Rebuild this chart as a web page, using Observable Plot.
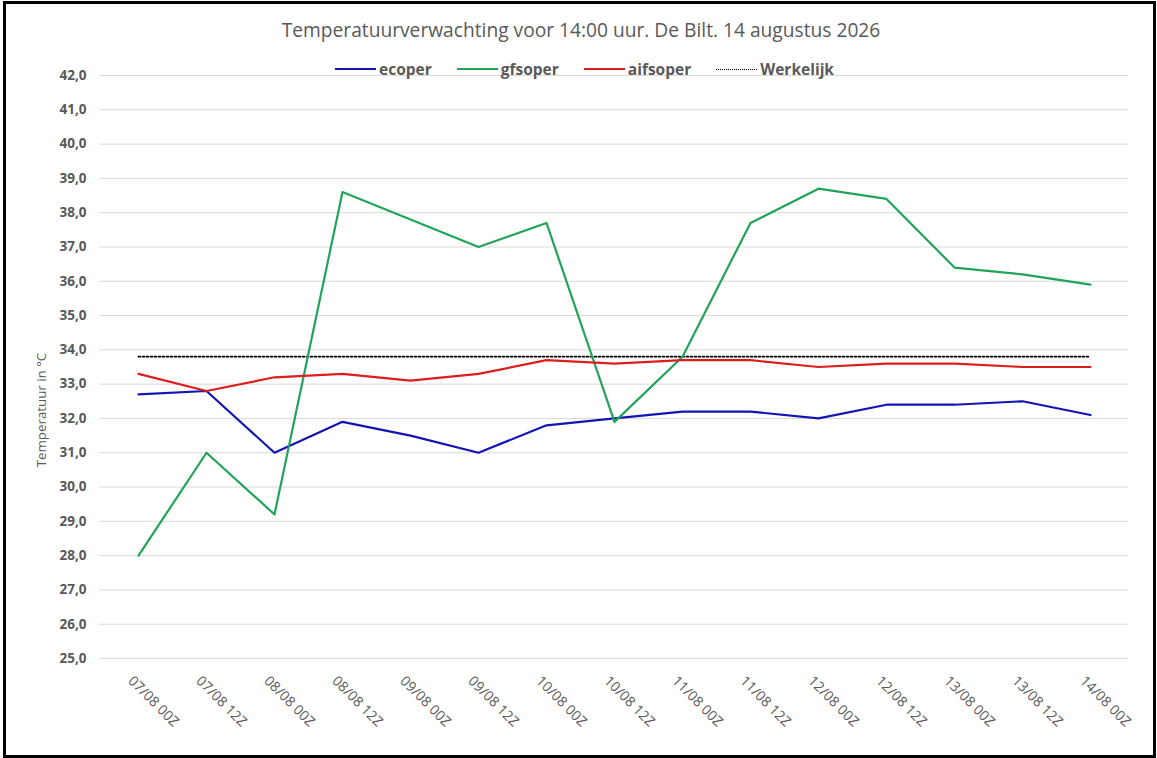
<!DOCTYPE html>
<html>
<head>
<meta charset="utf-8">
<script src="https://cdn.jsdelivr.net/npm/d3@7"></script>
<script src="https://cdn.jsdelivr.net/npm/@observablehq/plot@0.6"></script>
<style>
  html, body { margin: 0; padding: 0; background: #fff; }
  body { width: 1157px; height: 758px; position: relative; overflow: hidden; font-family: "Open Sans", sans-serif; }
  #frame { position: absolute; left: 3px; top: 1px; width: 1153px; height: 757px; border: 3px solid #000; box-sizing: border-box; pointer-events: none; z-index: 5; }
  #title { position: absolute; top: 16px; left: 0; width: 1162px; text-align: center; font-size: 19.2px; color: #595959; }
  #legend { position: absolute; top: 58px; left: 335px; display: flex; align-items: center; gap: 25px; font-size: 15.5px; font-weight: 700; color: #595959; z-index: 2; }
  .item { display: flex; align-items: center; gap: 3px; }
  .sw { width: 41px; height: 0; }
  #chart { position: absolute; top: 62px; left: 0; }
</style>
</head>
<body>
<div id="frame"></div>
<div id="title">Temperatuurverwachting voor 14:00 uur. De Bilt. 14 augustus 2026</div>
<div id="legend"></div>
<div id="chart"></div>
<script>
const categories = ["07/08 00Z","07/08 12Z","08/08 00Z","08/08 12Z","09/08 00Z","09/08 12Z","10/08 00Z","10/08 12Z","11/08 00Z","11/08 12Z","12/08 00Z","12/08 12Z","13/08 00Z","13/08 12Z","14/08 00Z"];
const ecoper   = [32.7, 32.8, 31.0, 31.9, 31.5, 31.0, 31.8, 32.0, 32.2, 32.2, 32.0, 32.4, 32.4, 32.5, 32.1];
const gfsoper  = [28.0, 31.0, 29.2, 38.6, 37.8, 37.0, 37.7, 31.9, 33.8, 37.7, 38.7, 38.4, 36.4, 36.2, 35.9];
const aifsoper = [33.3, 32.8, 33.2, 33.3, 33.1, 33.3, 33.7, 33.6, 33.7, 33.7, 33.5, 33.6, 33.6, 33.5, 33.5];
const werkelijk = [33.8, 33.8, 33.8, 33.8, 33.8, 33.8, 33.8, 33.8, 33.8, 33.8, 33.8, 33.8, 33.8, 33.8, 33.8];
const yTicks = [25,26,27,28,29,30,31,32,33,34,35,36,37,38,39,40,41,42];

const series = [
  {name: "ecoper", values: ecoper, color: "#1414b4", dash: null},
  {name: "gfsoper", values: gfsoper, color: "#22a35a", dash: null},
  {name: "aifsoper", values: aifsoper, color: "#dc1e1e", dash: null},
  {name: "Werkelijk", values: werkelijk, color: "#000", dash: "2 2"}
];

const legend = document.getElementById("legend");
for (const s of series) {
  const it = document.createElement("div");
  it.className = "item";
  const sw = document.createElement("div");
  sw.className = "sw";
  sw.style.borderTop = s.dash ? `1.6px dotted ${s.color}` : `2.5px solid ${s.color}`;
  const t = document.createElement("span");
  t.textContent = s.name;
  it.appendChild(sw); it.appendChild(t);
  legend.appendChild(it);
}

const fmt = d => d.toFixed(1).replace(".", ",");

const chart = Plot.plot({
  width: 1157,
  height: 696,
  marginTop: 13,
  marginBottom: 100,
  marginLeft: 99,
  marginRight: 29,
  style: {fontFamily: "'Open Sans', sans-serif", background: "transparent", color: "#595959", overflow: "visible"},
  x: {type: "point", domain: categories, padding: 0.5, label: null},
  y: {domain: [25, 42], label: null},
  marks: [
    Plot.gridY(yTicks, {stroke: "#d9d9d9", strokeOpacity: 1, strokeWidth: 1}),
    Plot.axisY(yTicks, {tickFormat: fmt, tickSize: 0, tickPadding: 13, fontSize: 13.5, fontWeight: 700, fill: "#595959", label: null}),
    Plot.axisX({tickRotate: 45, tickSize: 0, tickPadding: 0, dy: 20, dx: -8, fontSize: 14, fill: "#595959", label: null}),
    Plot.text(["Temperatuur in °C"], {frameAnchor: "left", textAnchor: "middle", dx: -58, dy: 43, rotate: -90, fontSize: 13.3, fill: "#595959"}),
    Plot.lineY(werkelijk, {x: categories, stroke: "#000", strokeWidth: 1.8, strokeDasharray: "1.8 2.2"}),
    Plot.lineY(ecoper, {x: categories, stroke: "#1414b4", strokeWidth: 2.2}),
    Plot.lineY(gfsoper, {x: categories, stroke: "#22a35a", strokeWidth: 2.2}),
    Plot.lineY(aifsoper, {x: categories, stroke: "#dc1e1e", strokeWidth: 2.2})
  ]
});
document.getElementById("chart").appendChild(chart);
</script>
</body>
</html>
